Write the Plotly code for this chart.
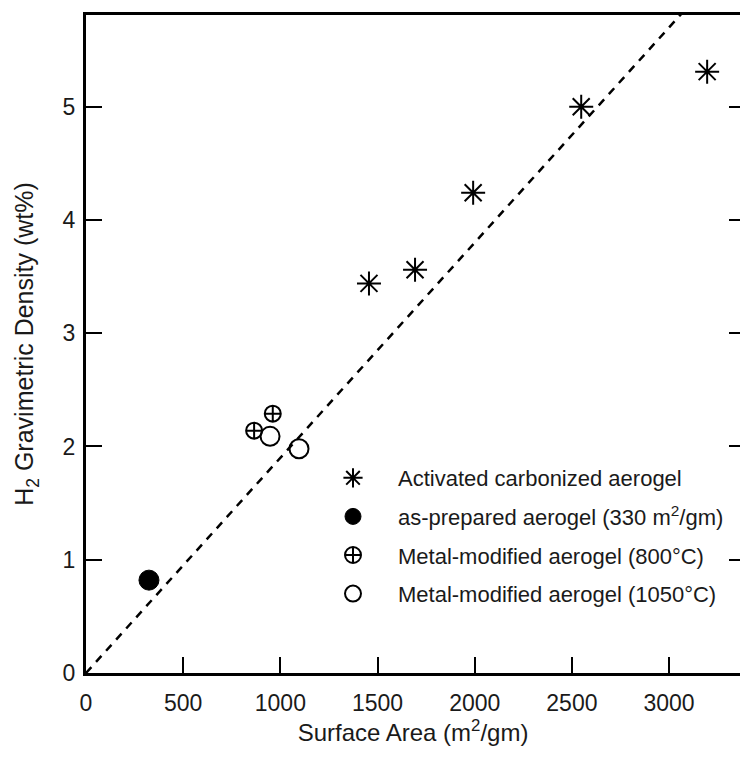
import plotly.graph_objects as go

# Data
act_x = [1456, 1693, 1992, 2548, 3196]
act_y = [3.44, 3.56, 4.24, 5.00, 5.31]

prep_x = [324]
prep_y = [0.82]

m800_x = [865, 961]
m800_y = [2.14, 2.29]

m1050_x = [947, 1096]
m1050_y = [2.09, 1.98]

fit_x = [0, 3100]
fit_y = [0, 5.89]

x_ticks = [0, 500, 1000, 1500, 2000, 2500, 3000]
y_ticks = [0, 1, 2, 3, 4, 5]

FONT = "Liberation Sans, Arial, sans-serif"
BLACK = "#000000"
TXT = "#1a1a1a"

fig = go.Figure()

fig.add_trace(go.Scatter(
    x=fit_x, y=fit_y, mode="lines",
    line=dict(color=BLACK, width=2.5, dash="8px,7px"),
    showlegend=False, hoverinfo="skip"))

fig.add_trace(go.Scatter(
    x=act_x, y=act_y, mode="markers", name="Activated carbonized aerogel",
    marker=dict(symbol="asterisk-open", size=20, color=BLACK,
                line=dict(color=BLACK, width=2)),
    legendgroup="a"))

fig.add_trace(go.Scatter(
    x=prep_x, y=prep_y, mode="markers",
    name="as-prepared aerogel (330 m<sup>2</sup>/gm)",
    marker=dict(symbol="circle", size=20, color=BLACK,
                line=dict(color=BLACK, width=1)),
    legendgroup="b"))

fig.add_trace(go.Scatter(
    x=m800_x, y=m800_y, mode="markers",
    name="Metal-modified aerogel (800°C)",
    marker=dict(symbol="circle-cross-open", size=16, color=BLACK,
                line=dict(color=BLACK, width=2)),
    legendgroup="c"))

fig.add_trace(go.Scatter(
    x=m1050_x, y=m1050_y, mode="markers",
    name="Metal-modified aerogel (1050°C)",
    marker=dict(symbol="circle-open", size=19, color=BLACK,
                line=dict(color=BLACK, width=2)),
    legendgroup="d"))

# invisible trace to drive right-hand ticks
fig.add_trace(go.Scatter(x=[0], y=[0], yaxis="y2", mode="markers",
                         marker=dict(opacity=0), showlegend=False,
                         hoverinfo="skip"))

fig.update_layout(
    width=740, height=757,
    margin=dict(l=86, r=0, t=15, b=84, autoexpand=False),
    paper_bgcolor="white", plot_bgcolor="white",
    font=dict(family=FONT, size=23, color=TXT),
    xaxis=dict(
        range=[0, 3365], tickvals=x_ticks, ticks="inside", ticklen=16,
        tickwidth=2, tickcolor=BLACK, showline=True, linewidth=3,
        linecolor=BLACK, mirror=True, showgrid=False, zeroline=False,
        automargin=False, ticklabelstandoff=7,
        title=dict(text="Surface Area (m<sup>2</sup>/gm)", standoff=8,
                   font=dict(size=24, color=TXT)),
        tickfont=dict(size=23, color=TXT)),
    yaxis=dict(
        range=[0, 5.81], tickvals=y_ticks, ticks="inside", ticklen=16,
        tickwidth=2, tickcolor=BLACK, showline=True, linewidth=3,
        linecolor=BLACK, mirror=False, showgrid=False, zeroline=False,
        automargin=False, ticklabelstandoff=3,
        title=dict(text="H<sub>2</sub> Gravimetric Density (wt%)",
                   standoff=22, font=dict(size=25, color=TXT)),
        tickfont=dict(size=23, color=TXT)),
    yaxis2=dict(
        overlaying="y", side="right", matches="y", range=[0, 5.81],
        tickvals=y_ticks, ticks="inside", ticklen=11, tickwidth=2,
        tickcolor=BLACK, showticklabels=False, showline=False,
        showgrid=False, zeroline=False, automargin=False),
    legend=dict(
        x=(308 - 86) / 654, y=(673 - 457) / 658, xanchor="left",
        yanchor="top", bgcolor="rgba(0,0,0,0)", borderwidth=0,
        font=dict(size=22, family=FONT, color=TXT), itemwidth=80,
        tracegroupgap=7, traceorder="grouped"),
)

fig.write_html("out.html", config={"displayModeBar": False},
               post_script="document.body.style.margin='0';document.body.style.overflow='hidden';")
